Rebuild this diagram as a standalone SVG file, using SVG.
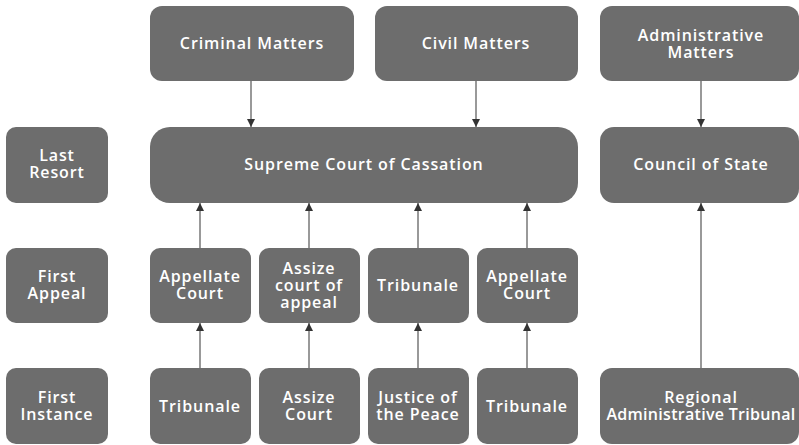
<svg xmlns="http://www.w3.org/2000/svg" width="799" height="445" viewBox="0 0 799 445">
<defs>
<style>
.n rect{fill:#6d6d6d;}
.n text{fill:#ffffff;font-family:"Open Sans","Noto Sans",sans-serif;font-weight:600;font-size:16px;letter-spacing:0.9px;text-anchor:middle;}
.c line{stroke:#555555;stroke-width:1.2;}
</style>
<marker id="ah" viewBox="0 0 10 10" refX="10" refY="5" markerWidth="8" markerHeight="8" markerUnits="userSpaceOnUse" orient="auto">
<path d="M0,0 L10,5 L0,10 z" fill="#333333"/>
</marker>
</defs>
<rect width="799" height="445" fill="#ffffff"/>
<g class="c">
<line x1="251" y1="81" x2="251" y2="127" marker-end="url(#ah)"/>
<line x1="476" y1="81" x2="476" y2="127" marker-end="url(#ah)"/>
<line x1="701" y1="81" x2="701" y2="127" marker-end="url(#ah)"/>
<line x1="200" y1="248" x2="200" y2="203" marker-end="url(#ah)"/>
<line x1="309" y1="248" x2="309" y2="203" marker-end="url(#ah)"/>
<line x1="418" y1="248" x2="418" y2="203" marker-end="url(#ah)"/>
<line x1="527" y1="248" x2="527" y2="203" marker-end="url(#ah)"/>
<line x1="200" y1="368" x2="200" y2="323" marker-end="url(#ah)"/>
<line x1="309" y1="368" x2="309" y2="323" marker-end="url(#ah)"/>
<line x1="418" y1="368" x2="418" y2="323" marker-end="url(#ah)"/>
<line x1="527" y1="368" x2="527" y2="323" marker-end="url(#ah)"/>
<line x1="701" y1="368" x2="701" y2="203" marker-end="url(#ah)"/>
</g>
<g id="criminal" class="n"><rect x="150" y="6" width="204" height="75" rx="12"/><text x="252" y="49">Criminal Matters</text></g>
<g id="civil" class="n"><rect x="375" y="6" width="203" height="75" rx="12"/><text x="476" y="49">Civil Matters</text></g>
<g id="admin" class="n"><rect x="600" y="6" width="199" height="75" rx="12"/><text x="701" y="41">Administrative</text><text x="701" y="58">Matters</text></g>
<g id="lastresort" class="n"><rect x="6" y="127" width="102" height="76" rx="10"/><text x="57" y="161">Last</text><text x="57" y="178">Resort</text></g>
<g id="supreme" class="n"><rect x="150" y="127" width="428" height="76" rx="20"/><text x="364" y="170">Supreme Court of Cassation</text></g>
<g id="council" class="n"><rect x="600" y="127" width="199" height="76" rx="14"/><text x="701" y="170">Council of State</text></g>
<g id="firstappeal" class="n"><rect x="6" y="248" width="102" height="75" rx="10"/><text x="57" y="282">First</text><text x="57" y="299">Appeal</text></g>
<g id="appellate1" class="n"><rect x="150" y="248" width="101" height="75" rx="10"/><text x="200" y="282">Appellate</text><text x="200" y="299">Court</text></g>
<g id="assizeappeal" class="n"><rect x="259" y="248" width="101" height="75" rx="10"/><text x="309" y="274">Assize</text><text x="309" y="291">court of</text><text x="309" y="308">appeal</text></g>
<g id="tribunale2" class="n"><rect x="368" y="248" width="101" height="75" rx="10"/><text x="418" y="291">Tribunale</text></g>
<g id="appellate2" class="n"><rect x="477" y="248" width="101" height="75" rx="10"/><text x="527" y="282">Appellate</text><text x="527" y="299">Court</text></g>
<g id="firstinstance" class="n"><rect x="6" y="368" width="102" height="76" rx="10"/><text x="57" y="403">First</text><text x="57" y="420">Instance</text></g>
<g id="tribunale1" class="n"><rect x="150" y="368" width="101" height="76" rx="10"/><text x="200" y="412">Tribunale</text></g>
<g id="assize" class="n"><rect x="259" y="368" width="101" height="76" rx="10"/><text x="309" y="403">Assize</text><text x="309" y="420">Court</text></g>
<g id="justice" class="n"><rect x="368" y="368" width="101" height="76" rx="10"/><text x="418" y="403">Justice of</text><text x="418" y="420">the Peace</text></g>
<g id="tribunale3" class="n"><rect x="477" y="368" width="101" height="76" rx="10"/><text x="527" y="412">Tribunale</text></g>
<g id="regional" class="n"><rect x="600" y="368" width="199" height="76" rx="12"/><text x="701" y="403">Regional</text><text x="701" y="420" style="letter-spacing:0.3px">Administrative Tribunal</text></g>
</svg>
